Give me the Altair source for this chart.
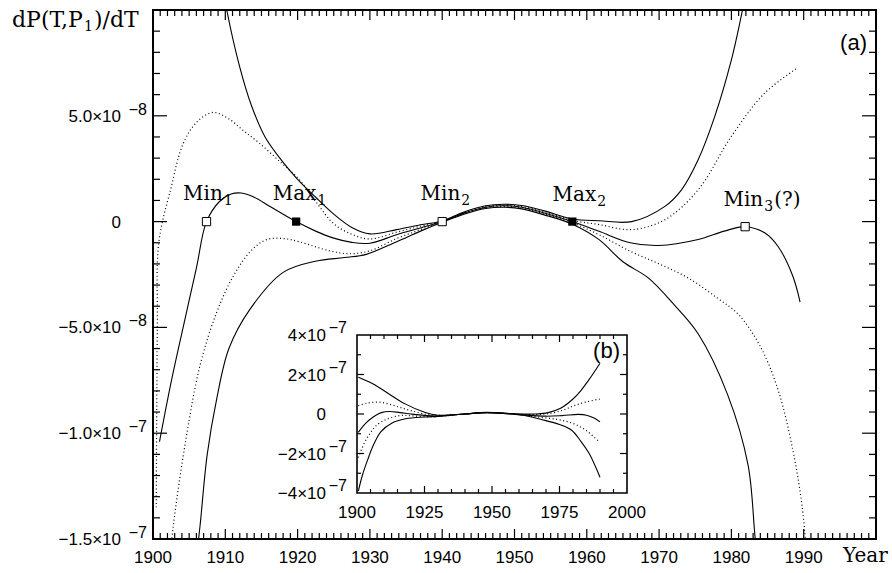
import altair as alt
import pandas as pd

# ---------------- panel (a): values in units of 1e-8 ----------------
a_mid_years = [1900.9, 1902.5, 1904.2, 1906.0, 1907.4, 1909.2, 1910.8, 1912.2, 1914.0, 1916.0, 1918.0,
               1919.8, 1922.5, 1925.0, 1927.5, 1930.0, 1933.7, 1937.0, 1940.0, 1943.0, 1946.0, 1948.5,
               1951.0, 1954.0, 1958.0, 1961.7, 1966.0, 1969.9, 1975.4, 1979.0, 1981.9, 1984.6, 1986.5,
               1988.5, 1989.5]
a_mid_vals = [-10.4, -7.6, -4.95, -2.2, 0.0, 0.95, 1.3, 1.35, 1.15, 0.75, 0.35,
              0.0, -0.45, -0.78, -0.98, -1.02, -0.62, -0.3, 0.0, 0.4, 0.68, 0.75,
              0.68, 0.42, 0.0, -0.46, -1.0, -1.13, -0.85, -0.45, -0.24, -0.53, -1.2,
              -2.58, -3.8]

a_dp_years = [1900.45, 1900.6, 1900.8, 1902.5, 1904.2, 1906.2, 1908.3, 1910.5, 1912.5, 1914.7, 1917.5,
              1920.2, 1922.5, 1925.0, 1927.5, 1930.0, 1933.7, 1937.0, 1940.0, 1943.0, 1946.0, 1948.5,
              1951.0, 1954.0, 1958.0, 1961.7, 1966.2, 1970.8, 1975.4, 1980.0, 1984.6, 1989.1]
a_dp_vals = [-13.5, -5.0, -1.0, 1.6, 3.71, 4.75, 5.16, 4.85, 4.3, 3.71, 2.85,
             2.0, 0.95, -0.1, -0.6, -0.82, -0.5, -0.22, 0.01, 0.42, 0.72, 0.78,
             0.72, 0.48, 0.06, -0.14, -0.38, 0.09, 1.5, 4.03, 6.07, 7.25]

a_sp_years = [1908.5, 1910.2, 1912.0, 1913.6, 1915.5, 1918.0, 1920.0, 1922.5, 1925.0, 1927.5, 1930.0,
              1933.7, 1937.0, 1940.0, 1943.0, 1946.0, 1948.5, 1951.0, 1954.0, 1958.0, 1961.7, 1966.2,
              1970.8, 1973.1, 1975.4, 1977.7, 1980.0, 1981.2, 1982.2]
a_sp_vals = [13.5, 10.0, 7.3, 5.5, 4.0, 2.8, 2.0, 1.15, 0.35, -0.28, -0.58,
             -0.38, -0.15, 0.03, 0.45, 0.75, 0.82, 0.76, 0.52, 0.12, 0.04, 0.0,
             0.72, 1.5, 2.92, 4.97, 7.64, 9.45, 11.2]

a_dm_years = [1902.2, 1902.8, 1904.5, 1906.5, 1908.8, 1911.1, 1913.5, 1915.7, 1918.0, 1920.2, 1924.4,
              1927.1, 1930.0, 1933.7, 1937.0, 1940.0, 1943.0, 1946.0, 1948.5, 1951.0, 1954.0, 1958.0,
              1961.7, 1966.0, 1970.0, 1974.0, 1978.0, 1981.0, 1984.0, 1986.5, 1988.5, 1989.8, 1990.4]
a_dm_vals = [-16.5, -14.4, -10.4, -6.8, -4.3, -2.58, -1.4, -0.85, -0.8, -0.95, -1.38,
             -1.52, -1.38, -0.8, -0.38, -0.01, 0.38, 0.65, 0.72, 0.65, 0.38, -0.06,
             -0.62, -1.4, -2.0, -2.66, -3.6, -4.4, -5.9, -8.0, -10.8, -13.5, -15.8]

a_sm_years = [1905.8, 1906.5, 1907.5, 1908.8, 1910.5, 1913.4, 1918.0, 1922.5, 1926.5, 1929.5, 1933.7,
              1937.0, 1940.0, 1943.0, 1946.0, 1948.5, 1951.0, 1954.0, 1958.0, 1961.7, 1965.0, 1968.5,
              1972.0, 1975.4, 1979.5, 1982.3, 1983.3, 1984.0]
a_sm_vals = [-16.5, -14.4, -11.0, -8.4, -6.0, -4.15, -2.4, -1.87, -1.7, -1.55, -0.95,
             -0.45, -0.03, 0.35, 0.62, 0.68, 0.6, 0.33, -0.12, -0.85, -1.9, -2.66,
             -3.9, -5.3, -8.2, -11.5, -15.0, -17.0]

# extrema markers
mark_years = [1907.4, 1919.8, 1940.0, 1958.0, 1981.9]
mark_vals = [0.0, 0.0, 0.0, 0.0, -0.24]
mark_filled = [False, True, False, True, False]

# extrema labels: main word, subscript, suffix; anchored where word and subscript meet
lab_word = ["Min", "Max", "Min", "Max", "Min"]
lab_sub = ["1", "1", "2", "2", "3"]
lab_suffix = ["", "", "", "", "(?)"]
lab_years = [1909.65, 1922.6, 1942.5, 1961.3, 1984.4]
lab_vals = [1.04, 1.04, 1.04, 0.96, 0.72]

# axis labels of panel (a)
a_xlab_vals = [1900, 1910, 1920, 1930, 1940, 1950, 1960, 1970, 1980, 1990]
a_ylab_vals = [5, 0, -5, -10, -15]
a_ylab_base = ["5.0×10", "0", "−5.0×10", "−1.0×10", "−1.5×10"]
a_ylab_exp = ["−8", "", "−8", "−7", "−7"]

# ---------------- panel (b): values in units of 1e-7 ----------------
b_sp_years = [1900.5, 1906, 1912, 1918, 1925, 1930, 1935, 1940, 1948, 1958, 1966, 1970.8, 1975.4, 1980, 1983, 1986, 1990]
b_sp_vals = [1.86, 1.52, 1.0, 0.5, 0.09, -0.06, -0.04, 0.0, 0.08, 0.01, 0.0, 0.07, 0.29, 0.76, 1.2, 1.75, 2.57]

b_dp_years = [1900.5, 1904, 1908, 1912, 1916, 1920, 1925, 1930, 1940, 1948, 1958, 1966, 1971, 1976, 1980, 1984.6, 1990]
b_dp_vals = [0.42, 0.56, 0.6, 0.5, 0.33, 0.17, 0.0, -0.07, 0.0, 0.07, 0.0, -0.03, 0.02, 0.18, 0.4, 0.6, 0.76]

b_mid_years = [1900.5, 1903, 1906, 1909, 1912, 1916, 1920, 1925, 1930, 1940, 1948, 1958, 1962, 1970, 1976, 1982, 1985, 1988, 1990]
b_mid_vals = [-0.93, -0.5, -0.15, 0.07, 0.13, 0.07, 0.0, -0.07, -0.1, 0.0, 0.07, 0.0, -0.05, -0.11, -0.08, -0.02, -0.06, -0.22, -0.4]

b_dm_years = [1900.5, 1902.8, 1905, 1907, 1911, 1916, 1920, 1927, 1932, 1940, 1948, 1958, 1966, 1974, 1980, 1985, 1990]
b_dm_vals = [-2.2, -1.44, -0.95, -0.6, -0.26, -0.08, -0.09, -0.15, -0.1, 0.0, 0.07, 0.0, -0.14, -0.27, -0.48, -0.85, -1.45]

b_sm_years = [1900.5, 1902, 1904, 1906, 1908.8, 1913, 1918, 1925, 1930, 1935, 1940, 1948, 1958, 1962, 1968, 1975, 1979.5, 1983, 1986, 1990]
b_sm_vals = [-3.9, -3.1, -2.3, -1.6, -0.9, -0.45, -0.24, -0.15, -0.12, -0.06, 0.0, 0.07, -0.01, -0.08, -0.27, -0.53, -0.82, -1.4, -2.0, -3.2]

b_xlab_vals = [1900, 1925, 1950, 1975, 2000]
b_ylab_vals = [4, 2, 0, -2, -4]
b_ylab_base = ["4×10", "2×10", "0", "−2×10", "−4×10"]
b_ylab_exp = ["−7", "−7", "", "−7", "−7"]

# tick positions
a_xmaj_vals = list(range(1910, 2000, 10))
a_xmin_vals = [y for y in range(1901, 2000) if y % 10]
a_ymaj_vals = list(range(-10, 10, 5))
a_ymin_vals = [y for y in range(-14, 10) if y % 5]
b_xmaj_vals = [1925, 1950, 1975]
b_xmin_vals = [y for y in range(1905, 2000, 5) if y % 25]
b_ymaj_vals = [-2, 0, 2]
b_ymin_vals = [-3, -1, 1, 3]

W, H = 723, 529
IL, IR, IT, IB = 204, 474, 325, 483   # inset frame inside the plot area (pixels)


# ---------------- build tables ----------------
def curves(spec):
    rows = []
    for name, style, ys, vs in spec:
        for yr, v in zip(ys, vs):
            rows.append({"year": float(yr), "val": float(v), "curve": name, "style": style})
    return rows


def tick_rows(prefix, xmaj, xmin, ymaj, ymin, x0, x1, y0, y1, upx_x, upx_y, lx, sx_len, ly, sy_len):
    """Inward frame ticks as two-point segments (pixel lengths converted to data units)."""
    rows = []
    k = 0
    for vals, ln in ((xmaj, lx), (xmin, sx_len)):
        d = ln * upx_y
        for v in vals:
            for a, b in ((y0, y0 + d), (y1, y1 - d)):
                name = f"{prefix}t{k}"
                rows += [{"year": float(v), "val": float(a), "curve": name, "style": "tick"},
                         {"year": float(v), "val": float(b), "curve": name, "style": "tick"}]
                k += 1
    for vals, ln in ((ymaj, ly), (ymin, sy_len)):
        d = ln * upx_x
        for v in vals:
            for a, b in ((x0, x0 + d), (x1, x1 - d)):
                name = f"{prefix}t{k}"
                rows += [{"year": float(a), "val": float(v), "curve": name, "style": "tick"},
                         {"year": float(b), "val": float(v), "curve": name, "style": "tick"}]
                k += 1
    return rows


main_df = pd.DataFrame(curves([
    ("mid", "solid", a_mid_years, a_mid_vals),
    ("dp", "dot", a_dp_years, a_dp_vals),
    ("sp", "solid", a_sp_years, a_sp_vals),
    ("dm", "dot", a_dm_years, a_dm_vals),
    ("sm", "solid", a_sm_years, a_sm_vals),
]) + tick_rows("a", a_xmaj_vals, a_xmin_vals, a_ymaj_vals, a_ymin_vals,
               1900, 2000, -15, 10, 100 / W, 25 / H, 10, 6, 14, 7))
inset_df = pd.DataFrame(curves([
    ("mid", "solid", b_mid_years, b_mid_vals),
    ("dp", "dot", b_dp_years, b_dp_vals),
    ("sp", "solid", b_sp_years, b_sp_vals),
    ("dm", "dot", b_dm_years, b_dm_vals),
    ("sm", "solid", b_sm_years, b_sm_vals),
]) + tick_rows("b", b_xmaj_vals, b_xmin_vals, b_ymaj_vals, b_ymin_vals,
               1900, 2000, -4, 4, 100 / (IR - IL), 8 / (IB - IT), 7, 4, 7, 4))

marker_df = pd.DataFrame({"year": mark_years, "val": mark_vals, "filled": mark_filled})
label_df = pd.DataFrame({"year": lab_years, "val": lab_vals, "w": lab_word, "s": lab_sub, "x": lab_suffix})
a_xlab_df = pd.DataFrame({"v": a_xlab_vals, "t": [str(v) for v in a_xlab_vals]})
a_ylab_df = pd.DataFrame({"v": a_ylab_vals, "b": a_ylab_base, "e": a_ylab_exp})
b_xlab_df = pd.DataFrame({"v": b_xlab_vals, "t": [str(v) for v in b_xlab_vals]})
b_ylab_df = pd.DataFrame({"v": b_ylab_vals, "b": b_ylab_base, "e": b_ylab_exp})
one = pd.DataFrame({"t": ["x"]})

MX = alt.Scale(domain=[1900, 2000], nice=False, zero=False)
MY = alt.Scale(domain=[-15, 10], nice=False, zero=False)
IX = alt.Scale(domain=[1900, 2000], range=[IL, IR], nice=False, zero=False)
IY = alt.Scale(domain=[-4, 4], range=[IB, IT], nice=False, zero=False)

SANS = "Liberation Sans"
SERIF = "DejaVu Serif"


def fx(sc, f):
    return alt.X(f, type="quantitative", scale=sc, axis=None)


def fy(sc, f):
    return alt.Y(f, type="quantitative", scale=sc, axis=None)


def dx_(sc, d):
    return alt.XDatum(d, type="quantitative", scale=sc, axis=None)


def dy_(sc, d):
    return alt.YDatum(d, type="quantitative", scale=sc, axis=None)


def curve_layers(df, sx, sy, clip):
    solid = alt.Chart(df).transform_filter(alt.datum.style == "solid").mark_line(
        clip=clip, color="black", strokeWidth=1.1, interpolate="catmull-rom"
    ).encode(x=fx(sx, "year"), y=fy(sy, "val"), detail="curve:N")
    dot = alt.Chart(df).transform_filter(alt.datum.style == "dot").mark_line(
        clip=clip, color="black", strokeWidth=1.2, interpolate="catmull-rom", strokeDash=[1, 2.6]
    ).encode(x=fx(sx, "year"), y=fy(sy, "val"), detail="curve:N")
    ticks = alt.Chart(df).transform_filter(alt.datum.style == "tick").mark_line(
        color="black", strokeWidth=1.2
    ).encode(x=fx(sx, "year"), y=fy(sy, "val"), detail="curve:N")
    return [solid, dot, ticks]


def txt(text, xenc, yenc, **kw):
    return alt.Chart(pd.DataFrame({"t": [text]})).mark_text(baseline="alphabetic", color="black", **kw) \
        .encode(x=xenc, y=yenc, text="t:N")


# ---------------- panel (a) layers ----------------
main_layers = curve_layers(main_df, MX, MY, True)
main_layers += [
    alt.Chart(marker_df).transform_filter(~alt.datum.filled).mark_square(
        size=68, fill="white", stroke="black", strokeWidth=1, opacity=1
    ).encode(x=fx(MX, "year"), y=fy(MY, "val")),
    alt.Chart(marker_df).transform_filter(alt.datum.filled).mark_square(
        size=68, color="black", opacity=1
    ).encode(x=fx(MX, "year"), y=fy(MY, "val")),
    alt.Chart(label_df).mark_text(font=SERIF, fontSize=20, align="right", baseline="alphabetic", color="black")
    .encode(x=fx(MX, "year"), y=fy(MY, "val"), text="w:N"),
    alt.Chart(label_df).mark_text(font=SERIF, fontSize=14, align="left", baseline="alphabetic", color="black",
                                  dx=1, dy=5)
    .encode(x=fx(MX, "year"), y=fy(MY, "val"), text="s:N"),
    alt.Chart(label_df).mark_text(font=SERIF, fontSize=20, align="left", baseline="alphabetic", color="black",
                                  dx=11)
    .encode(x=fx(MX, "year"), y=fy(MY, "val"), text="x:N"),
    alt.Chart(a_xlab_df).mark_text(font=SANS, fontSize=17, align="center", baseline="alphabetic", dy=24)
    .encode(x=fx(MX, "v"), y=dy_(MY, -15), text="t:N"),
    alt.Chart(a_ylab_df).mark_text(font=SANS, fontSize=17, align="right", baseline="alphabetic", dx=-32, dy=6)
    .encode(y=fy(MY, "v"), x=dx_(MX, 1900), text="b:N"),
    alt.Chart(a_ylab_df).mark_text(font=SANS, fontSize=16, align="right", baseline="alphabetic", dx=-6, dy=-1)
    .encode(y=fy(MY, "v"), x=dx_(MX, 1900), text="e:N"),
    txt("dP(T,P", dx_(MX, 1900), dy_(MY, 10), font=SERIF, fontSize=22, align="left", dx=-141, dy=17),
    txt("1", dx_(MX, 1900), dy_(MY, 10), font=SERIF, fontSize=14, align="left", dx=-69, dy=21),
    txt(")/dT", dx_(MX, 1900), dy_(MY, 10), font=SERIF, fontSize=22, align="left", dx=-59, dy=17),
    txt("Year", dx_(MX, 2000), dy_(MY, -15), font=SERIF, fontSize=20, align="left", dx=-33, dy=23),
    txt("(a)", dx_(MX, 2000), dy_(MY, 10), font=SANS, fontSize=22, align="right", dx=-9, dy=40),
]

# ---------------- panel (b) layers ----------------
inset_layers = [
    alt.Chart(one).mark_rect(fill="white", stroke="black", strokeWidth=1.6)
    .encode(x=dx_(IX, 1900), x2=alt.X2Datum(2000), y=dy_(IY, -4), y2=alt.Y2Datum(4)),
]
inset_layers += curve_layers(inset_df, IX, IY, False)
inset_layers += [
    alt.Chart(b_xlab_df).mark_text(font=SANS, fontSize=17, align="center", baseline="alphabetic", dy=25)
    .encode(x=fx(IX, "v"), y=dy_(IY, -4), text="t:N"),
    alt.Chart(b_ylab_df).mark_text(font=SANS, fontSize=17, align="right", baseline="alphabetic", dx=-31, dy=6)
    .encode(y=fy(IY, "v"), x=dx_(IX, 1900), text="b:N"),
    alt.Chart(b_ylab_df).mark_text(font=SANS, fontSize=16, align="right", baseline="alphabetic", dx=-10, dy=-2)
    .encode(y=fy(IY, "v"), x=dx_(IX, 1900), text="e:N"),
    txt("(b)", dx_(IX, 2000), dy_(IY, 4), font=SANS, fontSize=22, align="right", dx=-7, dy=23),
]

main = alt.layer(*main_layers)
inset = alt.layer(*inset_layers)

chart = alt.layer(main, inset).resolve_scale(x="independent", y="independent").properties(
    width=W, height=H,
    autosize=alt.AutoSizeParams(type="none"),
    padding={"left": 153, "top": 10, "right": 16, "bottom": 34},
    background="white",
).configure_view(stroke="black", strokeWidth=2)

chart.save("out.html", embed_options={"renderer": "svg", "actions": False})
